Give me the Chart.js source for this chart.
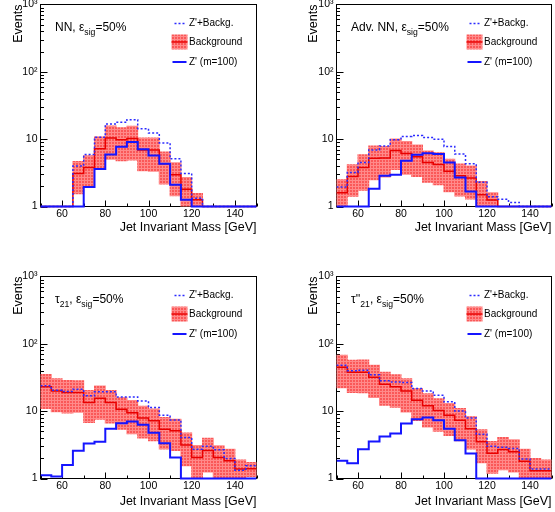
<!DOCTYPE html>
<html>
<head>
<meta charset="utf-8">
<script src="https://cdn.jsdelivr.net/npm/chart.js@4.4.0/dist/chart.umd.min.js"></script>
<style>
  body { margin: 0; background: #fff; }
  .pad { position: absolute; }
</style>
</head>
<body>
<div class="pad" style="left:0;top:0"><canvas id="nn" width="277" height="256"></canvas></div>
<div class="pad" style="left:277px;top:0"><canvas id="adv" width="278" height="256"></canvas></div>
<div class="pad" style="left:0;top:256px"><canvas id="tau" width="277" height="256"></canvas></div>
<div class="pad" style="left:277px;top:256px"><canvas id="tau2" width="278" height="256"></canvas></div>
<script>
// lower edges of the 5 GeV mass bins
const massBins = [50, 55, 60, 65, 70, 75, 80, 85, 90, 95, 100, 105, 110, 115, 120, 125, 130, 135, 140, 145];
const binWidth = 5;
const xTicks = [60, 80, 100, 120, 140];
const yTicks = [1, 10, 100, 1000];
const yTickLabels = ['1', '10', '10²', '10³'];
const legendLabels = ["Z'+Backg.", 'Background', "Z' (m=100)"];

// NN, eps_sig = 50%
const nnBkg = [0, 0, 0, 3.1, 3.8, 7.2, 10.4, 9.8, 10.2, 6.9, 6.9, 4.3, 2.95, 1.8, 1.26, 0, 0, 0, 0, 0];
const nnBkgErr = [0, 0, 0, 1.55, 1.85, 3.6, 5.35, 5.0, 5.3, 3.5, 3.55, 2.15, 1.5, 0.9, 0.3, 0, 0, 0, 0, 0];
const nnSig = [0, 0, 0, 0, 1.94, 3.6, 5.9, 7.7, 9.1, 7.1, 5.7, 4.3, 2.1, 1.26, 0, 0, 0, 0, 0, 0];
const nnTot = [0, 0, 0, 4.0, 5.9, 10.7, 16.8, 17.8, 19.5, 14.3, 12.3, 8.8, 5.1, 3.1, 1.33, 0, 0, 0, 0, 0];

// Adv. NN
const advBkg = [1.6, 2.8, 3.8, 5.2, 5.25, 6.8, 6.1, 5.5, 4.5, 4.2, 3.35, 2.85, 2.65, 1.5, 1.25, 0, 0, 0, 0, 0];
const advBkgErr = [0.9, 1.38, 2.05, 2.7, 2.5, 3.25, 3.1, 2.7, 2.2, 2.1, 1.7, 1.42, 1.36, 0.85, 0.35, 0, 0, 0, 0, 0];
const advSig = [0, 0, 0, 1.83, 2.85, 2.95, 4.8, 5.85, 6.2, 6.0, 4.5, 2.7, 1.67, 0, 0, 0, 0, 0, 0, 0];
const advTot = [1.94, 3.2, 4.5, 6.9, 7.95, 9.8, 11.0, 11.3, 10.6, 10.0, 7.8, 6.0, 4.3, 2.3, 1.4, 1.28, 1.15, 0, 0, 0];

// tau21
const tauBkg = [23, 20, 19, 19, 13.5, 15.6, 13.5, 10.7, 9.5, 7.9, 7.2, 5.4, 5.1, 3.15, 2.05, 2.6, 2.05, 1.83, 1.38, 1.4];
const tauBkgErr = [12, 10.2, 9.6, 9.4, 6.7, 8, 6.85, 5.3, 4.9, 3.9, 3.55, 2.65, 2.5, 1.6, 1.03, 1.35, 1.02, 0.9, 0.5, 0.33];
const tauSig = [1.12, 1.07, 1.58, 2.58, 3.3, 3.5, 5.5, 6.6, 7.0, 6.3, 4.8, 3.35, 2.05, 0, 0, 0, 0, 0, 0, 0];
const tauTot = [23.8, 20.5, 19.6, 21.2, 16.9, 19.4, 19.4, 16.3, 16.3, 14.2, 11.3, 8.7, 7.4, 4.06, 2.73, 3.0, 2.67, 1.98, 1.33, 1.54];

// tau''21
const tau2Bkg = [45, 38, 38, 32, 25, 23, 20, 14.5, 12, 10.2, 8.7, 7.3, 5.5, 3.5, 2.37, 2.7, 2.5, 1.8, 1.3, 1.3];
const tau2BkgErr = [22.8, 19, 19.3, 16, 12.8, 11.6, 10.3, 7.25, 6.2, 5.15, 4.35, 3.65, 2.75, 1.78, 1.17, 1.35, 1.25, 0.93, 0.68, 0.59];
const tau2Sig = [1.83, 1.69, 2.73, 3.55, 4.2, 4.66, 6.56, 7.6, 8.05, 7.35, 5.5, 3.7, 2.35, 0, 0, 0, 0, 0, 0, 0];
const tau2Tot = [48, 39.7, 40.5, 34.6, 28.2, 27.2, 26.7, 21.7, 20.0, 17.3, 13.8, 10.1, 7.9, 4.55, 3.0, 2.9, 2.8, 1.94, 1.38, 1.38];

const FONT = '"Liberation Sans", Arial, Helvetica, sans-serif';
Chart.defaults.font.family = FONT;
Chart.defaults.color = '#000';

const AXIS_MIN = 1;

// red fill with a fine light grid, like the ROOT error band
function bandPattern() {
    const c = document.createElement('canvas');
    c.width = 3;
    c.height = 3;
    const g = c.getContext('2d');
    g.fillStyle = 'rgb(250,88,88)';
    g.fillRect(0, 0, 3, 3);
    g.fillStyle = 'rgb(255,138,138)';
    g.fillRect(0, 0, 3, 1);
    g.fillRect(0, 0, 1, 3);
    return g.createPattern(c, 'repeat');
}
const pattern = bandPattern();

// histogram as step points (empty bins sit on the axis floor)
function steps(vals) {
    const pts = massBins.map((lo, i) => ({ x: lo, y: Math.max(vals[i], AXIS_MIN) }));
    pts.push({ x: massBins[massBins.length - 1] + binWidth, y: Math.max(vals[vals.length - 1], AXIS_MIN) });
    return pts;
}

function band(vals, errs) {
    return massBins
        .map((lo, i) => ({ x: lo + binWidth / 2, y: [Math.max(vals[i] - errs[i], 0.05), vals[i] + errs[i]], v: vals[i] }))
        .filter(d => d.v > 0);
}

function drawParts(ctx, parts, x, y, size) {
    ctx.textAlign = 'left';
    ctx.textBaseline = 'alphabetic';
    for (const p of parts) {
        const s = p.sub ? size * 0.72 : size;
        ctx.font = s + 'px ' + FONT;
        ctx.fillText(p.t, x, p.sub ? y + size * 0.3 : y);
        x += ctx.measureText(p.t).width;
    }
}

const framePlugin = {
    id: 'frame',
    beforeDatasetsDraw(chart) {
        const { ctx, chartArea: a, scales: { x, y } } = chart;
        ctx.save();
        ctx.strokeStyle = '#000';
        ctx.lineWidth = 1;
        ctx.strokeRect(a.left, a.top, a.right - a.left, a.bottom - a.top);
        ctx.beginPath();
        for (let v = 50; v <= 150; v += 10) {
            const px = Math.round(x.getPixelForValue(v)) + 0.5;
            const len = v % 20 === 0 ? 6 : 3;
            ctx.moveTo(px, a.bottom);
            ctx.lineTo(px, a.bottom - len);
        }
        for (let d = 1; d <= 100; d *= 10) {
            for (let m = 1; m <= 9; m++) {
                const py = Math.round(y.getPixelForValue(m * d)) + 0.5;
                ctx.moveTo(a.left, py);
                ctx.lineTo(a.left + (m === 1 ? 7 : 3.5), py);
            }
        }
        ctx.stroke();
        ctx.restore();
    }
};

const legendPlugin = {
    id: 'histLegend',
    afterDraw(chart) {
        const { ctx, chartArea: a } = chart;
        const x0 = a.right - 85, x1 = a.right - 70, tx = a.right - 67.5;
        const rows = [a.top + 19, a.top + 37.5, a.top + 57.5];
        ctx.save();
        // Z'+Backg.
        ctx.strokeStyle = '#2b2bff';
        ctx.lineWidth = 1.5;
        ctx.setLineDash([2, 2]);
        ctx.beginPath();
        ctx.moveTo(x0 + 3, rows[0]);
        ctx.lineTo(x1, rows[0]);
        ctx.stroke();
        ctx.setLineDash([]);
        // Background
        ctx.fillStyle = pattern;
        ctx.fillRect(x0, rows[1] - 7.5, x1 - x0 + 1, 15);
        ctx.strokeStyle = '#e80000';
        ctx.beginPath();
        ctx.moveTo(x0, rows[1]);
        ctx.lineTo(x1 + 1, rows[1]);
        ctx.stroke();
        // Z'
        ctx.strokeStyle = '#1515ff';
        ctx.lineWidth = 2;
        ctx.beginPath();
        ctx.moveTo(x0 + 1, rows[2]);
        ctx.lineTo(x1, rows[2]);
        ctx.stroke();
        ctx.fillStyle = '#000';
        ctx.font = '10px ' + FONT;
        ctx.textAlign = 'left';
        ctx.textBaseline = 'middle';
        legendLabels.forEach((t, i) => ctx.fillText(t, tx, rows[i]));
        ctx.restore();
    }
};

const titlePlugin = {
    id: 'panelTitle',
    afterDraw(chart) {
        const { ctx, chartArea: a } = chart;
        const parts = chart.options.plugins.panelTitle.parts;
        ctx.save();
        ctx.fillStyle = '#000';
        drawParts(ctx, parts, a.left + 14.5, a.top + 26.8, 12);
        ctx.restore();
    }
};

function makePanel(p) {
    const H = 256;
    const W = p.width;
    const clip = { left: 0, top: 0, right: 0, bottom: 2 };
    new Chart(document.getElementById(p.id), {
        type: 'line',
        data: {
            datasets: [
                { label: legendLabels[0], data: steps(p.tot), stepped: 'before', borderColor: '#2b2bff', borderWidth: 1.5, borderDash: [2, 2], pointRadius: 0, order: 1, clip: clip },
                { label: legendLabels[2], data: steps(p.sig), stepped: 'before', borderColor: '#1515ff', borderWidth: 2, pointRadius: 0, order: 0, clip: clip },
                { label: legendLabels[1], data: steps(p.bkg), stepped: 'before', borderColor: '#e80000', borderWidth: 1.5, pointRadius: 0, order: 2, clip: clip },
                { type: 'bar', label: 'band', data: band(p.bkg, p.err), backgroundColor: pattern, borderWidth: 0, barPercentage: 1, categoryPercentage: 1, inflateAmount: 0.5, order: 3 }
            ]
        },
        options: {
            responsive: false,
            animation: false,
            events: [],
            layout: { padding: { left: 0, top: p.T, right: W - p.R, bottom: 0 } },
            plugins: {
                legend: { display: false },
                tooltip: { enabled: false },
                panelTitle: { parts: p.title }
            },
            scales: {
                x: {
                    type: 'linear', min: 50, max: 150, offset: false,
                    afterBuildTicks: s => { s.ticks = xTicks.map(v => ({ value: v })); },
                    afterFit: s => { s.height = H - p.B; s.paddingLeft = 0; s.paddingRight = 0; },
                    grid: { display: false, drawTicks: false },
                    border: { display: false },
                    ticks: { font: { size: 10.5 }, color: '#000', padding: 1, maxRotation: 0, autoSkip: false },
                    title: { display: true, text: 'Jet Invariant Mass [GeV]', align: 'end', color: '#000', font: { size: 12.5 }, padding: { top: 0, bottom: p.xtPad } }
                },
                y: {
                    type: 'logarithmic', min: 1, max: 1000,
                    afterBuildTicks: s => { s.ticks = yTicks.map(v => ({ value: v })); },
                    afterFit: s => { s.width = p.L; s.paddingTop = 0; s.paddingBottom = 0; },
                    grid: { display: false, drawTicks: false },
                    border: { display: false },
                    ticks: { font: { size: 10.5 }, color: '#000', padding: 3, autoSkip: false, callback: v => yTickLabels[yTicks.indexOf(v)] },
                    title: { display: true, text: 'Events', align: 'end', color: '#000', font: { size: 12.5 }, padding: { top: p.ytPad, bottom: 0 } }
                }
            }
        },
        plugins: [framePlugin, legendPlugin, titlePlugin]
    });
}

const eps = [{ t: 'ε' }, { t: 'sig', sub: true }, { t: '=50%' }];

makePanel({ id: 'nn', width: 277, L: 40.5, R: 256.5, T: 4.5, B: 206.5, xtPad: 20.5, ytPad: 10.8,
    bkg: nnBkg, err: nnBkgErr, sig: nnSig, tot: nnTot, title: [{ t: 'NN, ' }].concat(eps) });
makePanel({ id: 'adv', width: 278, L: 59.5, R: 274.5, T: 4.5, B: 206.5, xtPad: 20.5, ytPad: 29.2,
    bkg: advBkg, err: advBkgErr, sig: advSig, tot: advTot, title: [{ t: 'Adv. NN, ' }].concat(eps) });
makePanel({ id: 'tau', width: 277, L: 40.5, R: 256.5, T: 20.5, B: 222.5, xtPad: 2.5, ytPad: 10.8,
    bkg: tauBkg, err: tauBkgErr, sig: tauSig, tot: tauTot, title: [{ t: 'τ' }, { t: '21', sub: true }, { t: ', ' }].concat(eps) });
makePanel({ id: 'tau2', width: 278, L: 59.5, R: 274.5, T: 20.5, B: 222.5, xtPad: 2.5, ytPad: 29.2,
    bkg: tau2Bkg, err: tau2BkgErr, sig: tau2Sig, tot: tau2Tot, title: [{ t: "τ''" }, { t: '21', sub: true }, { t: ', ' }].concat(eps) });
</script>
</body>
</html>
